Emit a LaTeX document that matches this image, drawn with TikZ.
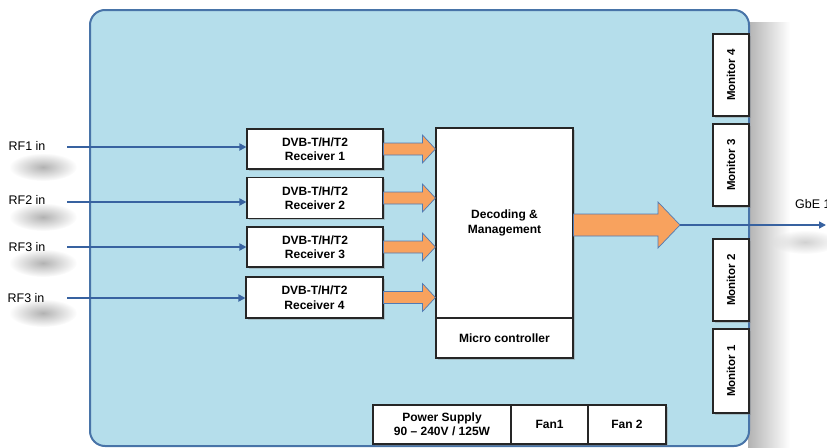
\documentclass[tikz,border=0pt]{standalone}
\usepackage{fontspec}
\setmainfont{Liberation Sans}
\usetikzlibrary{calc,shadows,arrows.meta,fadings}
\definecolor{panelfill}{RGB}{181,222,235}
\definecolor{panelline}{RGB}{72,116,168}
\definecolor{sigline}{RGB}{56,98,160}
\definecolor{orangefill}{RGB}{248,162,94}
\definecolor{orangeline}{RGB}{80,122,180}
\tikzfading[name=softblob, inner color=transparent!0, outer color=transparent!100]
\tikzset{
  box/.style={draw=black!85, line width=1.1pt, fill=white, inner sep=1pt,
    font=\bfseries\fontsize{12}{14.5}\selectfont, align=center,
    drop shadow={shadow xshift=1.5pt, shadow yshift=-1.5pt, opacity=0.35}},
  monbox/.style={box, rotate=90, minimum height=36pt, font=\bfseries\fontsize{11.5}{13}\selectfont},
  fatarrow/.style={draw=orangeline, line width=0.7pt, fill=orangefill, line join=miter},
  sig/.style={draw=sigline, line width=1.8pt, -{Triangle[length=7pt,width=7pt]}},
  lbl/.style={font=\fontsize{12.5}{14}\selectfont, inner sep=0pt},
  blur/.style={fill=black!30, path fading=softblob},
}
\newcommand\fatarr[5]{\draw[fatarrow] let \p1=(#1), \p2=(#2) in
  (\x1,\y1+#3) -- (\x2-#5,\y1+#3) -- (\x2-#5,\y1+#4) -- (\x2,\y1) --
  (\x2-#5,\y1-#4) -- (\x2-#5,\y1-#3) -- (\x1,\y1-#3) -- cycle;}
\begin{document}
\begin{tikzpicture}[x=1pt,y=-1pt]
\useasboundingbox (0,0) rectangle (827,447);
% shadows
\shade[left color=black!30, right color=white] (748,22) rectangle (790,447);
\foreach \yy in {167,217,263,313}{
  \fill[blur] (43,\yy) ellipse (34 and 14);
}
\fill[blur, fill=black!18] (805,242) ellipse (34 and 12);
% panel
\node[draw=panelline, line width=2pt, fill=panelfill, rounded corners=15pt,
  minimum width=659pt, minimum height=436pt, inner sep=0pt] (panel) at (419.5,228) {};
% receivers
\node[box, minimum width=136pt, minimum height=40pt] (r1) at (315,149) {DVB-T/H/T2\\Receiver 1};
\node[box, minimum width=136pt, minimum height=41pt] (r2) at (315,198) {DVB-T/H/T2\\Receiver 2};
\node[box, minimum width=136pt, minimum height=40pt] (r3) at (315,247) {DVB-T/H/T2\\Receiver 3};
\node[box, minimum width=137pt, minimum height=41pt] (r4) at (314.5,297.5) {DVB-T/H/T2\\Receiver 4};
% decoding
\node[box, minimum width=137pt, minimum height=190pt] (dec) at (504.5,223) {Decoding \&\\Management};
\node[box, minimum width=137pt, minimum height=40pt] (mc) at (504.5,338) {Micro controller};
% monitors
\node[monbox, minimum width=82pt] (m4) at (731,75) {Monitor 4};
\node[monbox, minimum width=82pt] (m3) at (731,165) {Monitor 3};
\node[monbox, minimum width=82pt] (m2) at (731,280) {Monitor 2};
\node[monbox, minimum width=84pt] (m1) at (731,371) {Monitor 1};
% bottom
\node[box, minimum width=138pt, minimum height=39pt] (ps) at (442,424.5) {Power Supply\\90 -- 240V / 125W};
\node[box, minimum width=77pt, minimum height=39pt] (f1) at (549.5,424.5) {Fan1};
\node[box, minimum width=78pt, minimum height=39pt] (f2) at (627,424.5) {Fan 2};
% inputs
\coordinate (i1) at (67,147);
\coordinate (i2) at (67,202);
\coordinate (i3) at (67,247);
\coordinate (i4) at (67,298);
\node[lbl] (l1) at (27,146) {RF1 in};
\node[lbl] (l2) at (27,200) {RF2 in};
\node[lbl] (l3) at (27,247) {RF3 in};
\node[lbl] (l4) at (26,298) {RF3 in};
\draw[sig] (i1) -- (r1.west |- i1);
\draw[sig] (i2) -- (r2.west |- i2);
\draw[sig] (i3) -- (r3.west |- i3);
\draw[sig] (i4) -- (r4.west |- i4);
% orange arrows
\fatarr{r1.east}{dec.west |- r1.east}{6pt}{14pt}{13pt}
\fatarr{r2.east}{dec.west |- r2.east}{6pt}{14pt}{13pt}
\fatarr{r3.east}{dec.west |- r3.east}{6pt}{14pt}{13pt}
\fatarr{r4.east}{dec.west |- r4.east}{6pt}{14pt}{13pt}
\coordinate (tip) at (680,225);
\coordinate (gbeend) at (826,225);
\fatarr{dec.east |- tip}{tip}{11pt}{23pt}{22pt}
\draw[sig, line width=1.5pt] (tip) -- (gbeend);
\node[lbl, anchor=west] (gbe) at (795,204) {GbE 1};
\end{tikzpicture}
\end{document}
